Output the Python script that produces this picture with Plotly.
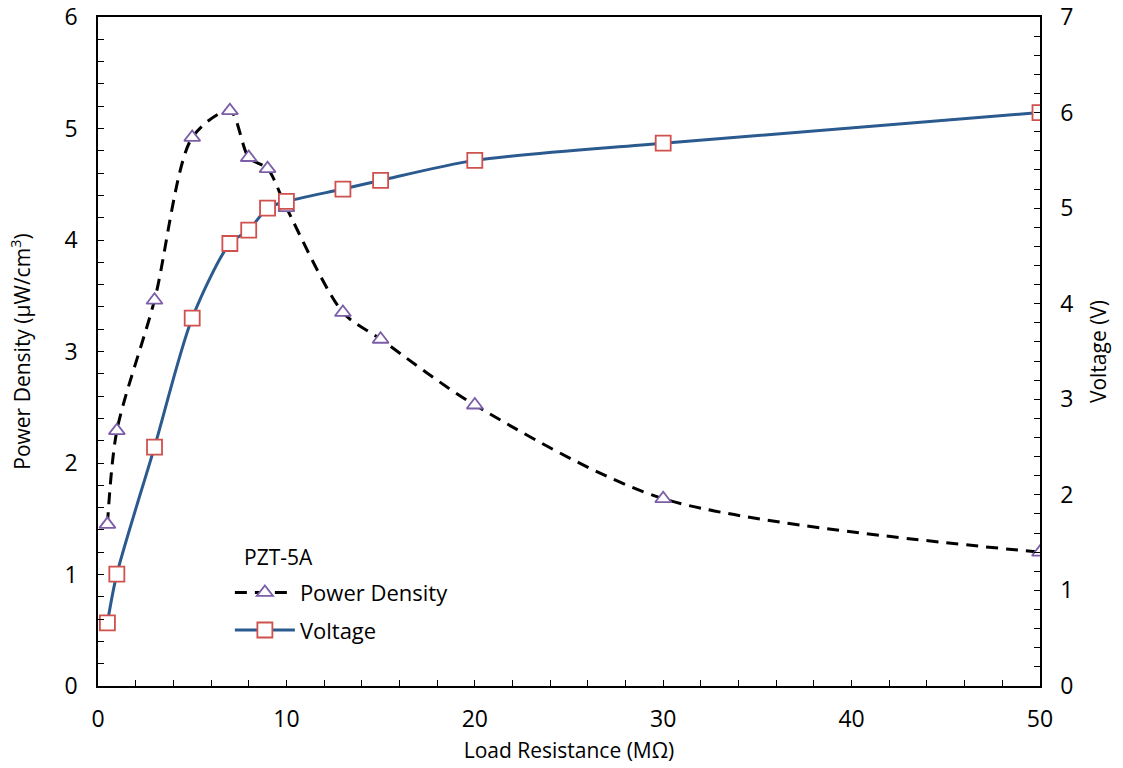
import plotly.graph_objects as go

resistance = [0.5, 1, 3, 5, 7, 8, 9, 10, 13, 15, 20, 30, 50]
power_density = [1.45, 2.29, 3.46, 4.92, 5.16, 4.74, 4.64, 4.29, 3.35, 3.11, 2.52, 1.68, 1.20]
voltage = [0.66, 1.17, 2.50, 3.85, 4.63, 4.77, 5.00, 5.07, 5.20, 5.29, 5.50, 5.68, 6.00]

FONT = "Open Sans"

fig = go.Figure()
fig.add_trace(go.Scatter(
    x=resistance, y=power_density, name="Power Density", mode="lines+markers",
    legendgroup="a",
    line=dict(color="black", width=3, dash="12px,8px", shape="spline", smoothing=0.8),
    marker=dict(symbol="triangle-up", size=14, color="white",
                line=dict(color="#7b5ea7", width=1.8)),
    yaxis="y"))
fig.add_trace(go.Scatter(
    x=resistance, y=voltage, name="Voltage", mode="lines+markers",
    legendgroup="b",
    line=dict(color="#2a5a8e", width=3, shape="spline", smoothing=0.8),
    marker=dict(symbol="square", size=15, color="white",
                line=dict(color="#d0504d", width=1.8)),
    yaxis="y2"))

axis_common = dict(showline=True, linecolor="black", linewidth=1.5, ticks="inside",
                   ticklen=6, tickcolor="black", showgrid=False, zeroline=False,
                   automargin=False, tickfont=dict(size=23, color="black"))

fig.update_layout(
    width=1123, height=768,
    margin=dict(l=98, r=83, t=17, b=82),
    plot_bgcolor="white", paper_bgcolor="white",
    font=dict(family=FONT, color="black"),
    showlegend=True,
    legend=dict(x=0.14, y=0.171, xanchor="left", yanchor="top",
                bgcolor="rgba(0,0,0,0)", font=dict(size=22),
                itemwidth=60, tracegroupgap=6),
    annotations=[dict(text="PZT-5A", xref="paper", yref="paper", x=0.1529, y=0.1928,
                      xanchor="left", yanchor="middle", showarrow=False,
                      font=dict(size=21, color="black"))],
    xaxis=dict(range=[0, 50], dtick=10, mirror=True, ticklabelstandoff=12,
               minor=dict(ticks="inside", dtick=2, ticklen=6, tickcolor="black"),
               title=dict(text="Load Resistance (MΩ)", font=dict(size=21), standoff=10),
               **axis_common),
    yaxis=dict(range=[0, 6], dtick=1, ticklabelstandoff=14,
               minor=dict(ticks="inside", dtick=0.2, ticklen=6, tickcolor="black"),
               title=dict(text="Power Density (μW/cm<sup>3</sup>)", font=dict(size=21), standoff=28),
               **axis_common),
    yaxis2=dict(range=[0, 7], dtick=1, overlaying="y", side="right", ticklabelstandoff=14,
                minor=dict(ticks="inside", dtick=0.2, ticklen=6, tickcolor="black"),
                title=dict(text="Voltage (V)", font=dict(size=21), standoff=19),
                **axis_common),
)

fig.write_html("out.html")
